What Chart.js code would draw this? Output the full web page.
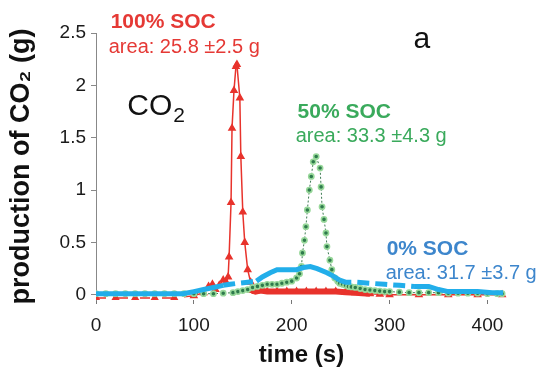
<!DOCTYPE html>
<html>
<head>
<meta charset="utf-8">
<script src="https://cdn.jsdelivr.net/npm/chart.js@4.4.1/dist/chart.umd.min.js"></script>
<style>
  html, body { margin: 0; padding: 0; background: #fff; }
</style>
</head>
<body>
<canvas id="chart" width="538" height="371"></canvas>
<script>
// values (time in s, CO2 production in g)
var time100 = [0, 20, 40, 60, 80, 100, 110, 115, 119, 122, 126, 130, 133, 135, 136, 138, 139, 141, 143, 144, 147, 148, 150, 152, 155, 158, 160, 163, 168, 175, 185, 195, 205, 215, 225, 235, 245, 255, 265, 272, 280, 290, 300, 330, 360, 390, 415];
var soc100 = [-0.03, -0.03, -0.03, -0.03, -0.03, -0.01, 0.02, 0.08, 0.1, 0.05, 0.09, 0.14, 0.12, 0.17, 0.36, 0.88, 1.59, 1.95, 2.18, 2.2, 1.88, 1.32, 0.79, 0.5, 0.24, 0.12, 0.04, 0.03, 0.04, 0.03, 0.03, 0.03, 0.03, 0.03, 0.03, 0.03, 0.03, 0.025, 0.02, 0.015, 0.01, 0.005, 0, 0, 0, 0, 0];

var time50 = [0, 10, 20, 30, 40, 50, 60, 70, 80, 90, 100, 110, 120, 130, 140, 145, 150, 155, 160, 165, 170, 175, 180, 185, 190, 195, 200, 205, 208, 210, 211, 213, 214.5, 216, 218, 220, 222, 225, 229, 230, 231, 233, 235, 236, 239, 241, 244, 247, 249, 252, 255, 258, 261, 265, 270, 275, 280, 285, 290, 295, 300, 310, 320, 330, 340, 350, 360, 370, 380, 390, 400, 410, 415];
var soc50 = [0.01, 0.01, 0.01, 0.01, 0.01, 0.01, 0.01, 0.01, 0.01, 0.01, 0.01, 0.01, 0.01, 0.015, 0.02, 0.03, 0.04, 0.05, 0.07, 0.08, 0.09, 0.1, 0.1, 0.1, 0.11, 0.12, 0.13, 0.16, 0.2, 0.27, 0.4, 0.52, 0.65, 0.81, 1.0, 1.13, 1.27, 1.32, 1.21, 1.03, 0.84, 0.72, 0.59, 0.46, 0.33, 0.24, 0.16, 0.13, 0.11, 0.1, 0.09, 0.08, 0.075, 0.07, 0.06, 0.05, 0.045, 0.04, 0.035, 0.03, 0.03, 0.025, 0.02, 0.02, 0.02, 0.02, 0.015, 0.015, 0.015, 0.015, 0.01, 0.01, 0.01];

var time0 = [0, 20, 40, 60, 80, 89, 100, 110, 120, 130, 137, 145, 155, 164, 170, 178, 185, 195, 205, 212, 219, 226, 236, 242, 249, 255, 265, 280, 295, 310, 325, 340, 350, 360, 375, 390, 405, 416];
var soc0 = [0.01, 0.01, 0.01, 0.01, 0.01, 0.01, 0.03, 0.05, 0.07, 0.09, 0.1, 0.11, 0.12, 0.13, 0.17, 0.21, 0.24, 0.24, 0.24, 0.26, 0.27, 0.25, 0.21, 0.18, 0.14, 0.12, 0.12, 0.11, 0.1, 0.09, 0.08, 0.08, 0.05, 0.03, 0.03, 0.03, 0.02, 0.02];

var xTicks = [0, 100, 200, 300, 400];
var yTicks = [0, 0.5, 1, 1.5, 2, 2.5];

var notes = [
  { text: "100% SOC", t: 15, v: 2.55, bold: true, size: 21, color: "#e53935" },
  { text: "area: 25.8 \u00b12.5 g", t: 13, v: 2.31, size: 20, color: "#e53935" },
  { text: "50% SOC", t: 206, v: 1.69, bold: true, size: 21, color: "#3aaa5c" },
  { text: "area: 33.3 \u00b14.3 g", t: 204, v: 1.46, size: 20, color: "#3aaa5c" },
  { text: "0% SOC", t: 297, v: 0.38, bold: true, size: 21, color: "#3d86cc" },
  { text: "area: 31.7 \u00b13.7 g", t: 296, v: 0.15, size: 20, color: "#3d86cc" },
  { text: "a", t: 333, v: 2.36, size: 30, color: "#111", align: "center" }
];

var FONT = "'Liberation Sans', Arial, sans-serif";

function points(xs, ys) {
  return xs.map(function (t, i) { return { x: t, y: ys[i] }; });
}

var labelsPlugin = {
  id: "socLabels",
  afterDatasetsDraw: function (chart) {
    var ctx = chart.ctx;
    var sx = chart.scales.x;
    var sy = chart.scales.y;
    ctx.save();
    ctx.textBaseline = "alphabetic";
    notes.forEach(function (n) {
      ctx.font = (n.bold ? "bold " : "") + n.size + "px " + FONT;
      ctx.fillStyle = n.color;
      ctx.textAlign = n.align || "left";
      ctx.fillText(n.text, sx.getPixelForValue(n.t), sy.getPixelForValue(n.v));
    });
    // CO2 with a real subscript
    var px = sx.getPixelForValue(32);
    var py = sy.getPixelForValue(1.72);
    ctx.textAlign = "left";
    ctx.fillStyle = "#111";
    ctx.font = "30px " + FONT;
    ctx.fillText("CO", px, py);
    var w = ctx.measureText("CO").width;
    ctx.font = "21px " + FONT;
    ctx.fillText("2", px + w + 1, py + 7);
    ctx.restore();
  }
};

function inRange(t, ranges) {
  return ranges.some(function (r) { return t >= r[0] && t < r[1]; });
}

new Chart(document.getElementById("chart"), {
  type: "line",
  data: {
    datasets: [
      {
        label: "0% SOC",
        data: points(time0, soc0),
        borderColor: "#22aeea",
        borderWidth: 5,
        pointRadius: 0,
        tension: 0,
        segment: {
          borderDash: function (ctx) {
            return inRange(ctx.p0.parsed.x, [[130, 164], [249, 325]]) ? [12, 6] : undefined;
          }
        }
      },
      {
        label: "50% SOC",
        data: points(time50, soc50),
        borderColor: "#3c7a52",
        borderWidth: 1,
        borderDash: [2, 2],
        pointStyle: "circle",
        pointRadius: 2.6,
        pointBorderWidth: 1.6,
        pointBackgroundColor: "#2e7a4c",
        pointBorderColor: "#98d89a",
        tension: 0
      },
      {
        label: "100% SOC",
        data: points(time100, soc100),
        borderColor: "#e8332c",
        borderWidth: 1.5,
        pointStyle: "triangle",
        pointRadius: 3.5,
        pointBackgroundColor: "#e8332c",
        pointBorderColor: "#e8332c",
        tension: 0,
        segment: {
          borderDash: function (ctx) {
            return ctx.p0.parsed.x < 100 ? [10, 12] : undefined;
          },
          borderWidth: function (ctx) {
            return inRange(ctx.p0.parsed.x, [[160, 280]]) ? 6 : undefined;
          }
        }
      }
    ]
  },
  options: {
    responsive: false,
    animation: false,
    layout: { padding: { top: 33, right: 31, left: 0, bottom: 0 } },
    plugins: {
      legend: { display: false },
      tooltip: { enabled: false }
    },
    scales: {
      x: {
        type: "linear",
        min: 0,
        max: 420,
        afterFit: function (scale) { scale.height = 71; },
        afterBuildTicks: function (scale) {
          scale.ticks = xTicks.map(function (v) { return { value: v }; });
        },
        border: { display: false },
        grid: { drawOnChartArea: false, drawTicks: true, tickLength: 4, color: "#777" },
        ticks: {
          color: "#1a1a1a",
          padding: 10,
          font: { family: FONT, size: 19 },
          maxRotation: 0,
          callback: function (v) { return String(v); }
        },
        title: {
          display: true,
          text: "time (s)",
          color: "#111",
          font: { family: FONT, size: 24, weight: "bold" },
          padding: { top: 0, bottom: 1 }
        }
      },
      y: {
        min: -0.05,
        max: 2.5,
        afterFit: function (scale) { scale.width = 96; },
        afterBuildTicks: function (scale) {
          scale.ticks = yTicks.map(function (v) { return { value: v }; });
        },
        border: { display: true, color: "#888", width: 1 },
        grid: { drawOnChartArea: false, drawTicks: true, tickLength: 5, color: "#888" },
        ticks: {
          color: "#1a1a1a",
          padding: 5,
          font: { family: FONT, size: 19 },
          callback: function (v) { return String(v); }
        },
        title: {
          display: true,
          text: "production of CO\u2082 (g)",
          color: "#111",
          font: { family: FONT, size: 27, weight: "bold" },
          padding: { top: 5, bottom: 0 }
        }
      }
    }
  },
  plugins: [labelsPlugin]
});
</script>
</body>
</html>
